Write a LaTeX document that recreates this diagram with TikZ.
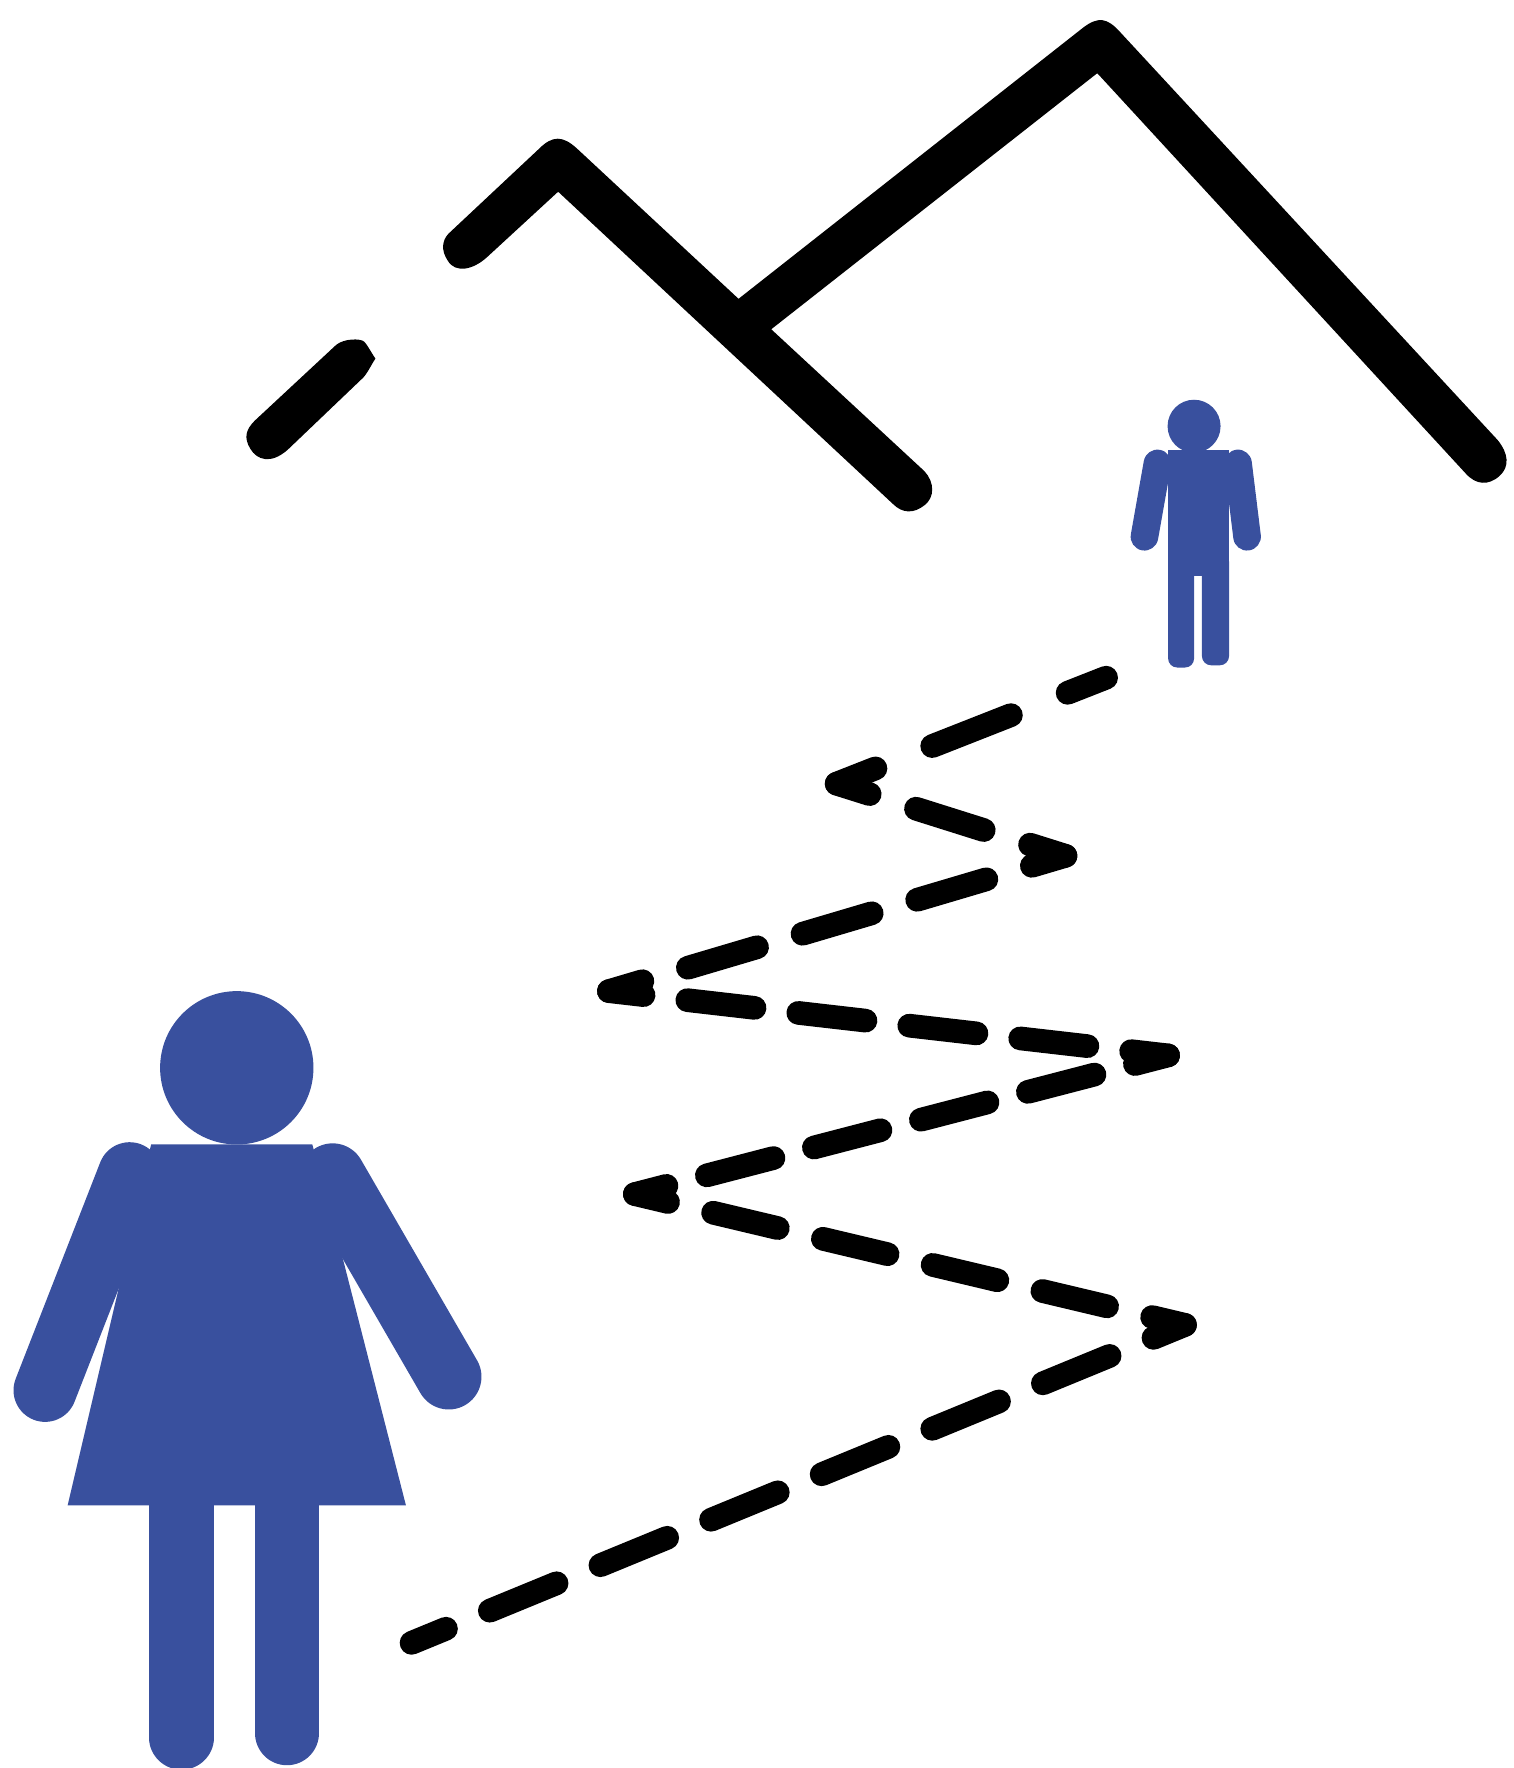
\documentclass[tikz,border=0pt]{standalone}
\usepackage{tikz}
\definecolor{figblue}{RGB}{57,80,158}
\tikzstyle{limb} = [figblue, line cap=round]
\tikzstyle{trail} = [black, line width=0.21cm, line cap=round]

\begin{document}
\begin{tikzpicture}[x=0.01cm,y=-0.01cm]
        \useasboundingbox (0,0) rectangle (1342,1568);
        % mountains
        \fill [black] (226,373) -- (298,306) .. controls (305,300) and (320,300) .. (323,303) .. controls (326,306) and (330,314) .. (333,318) .. controls (330,322) and (326,331) .. (322,335) -- (255,399) .. controls (240,412) and (228,408) .. (222,398) .. controls (216,388) and (218,381) .. (226,373) -- cycle;
        \fill [black] (398,207) -- (478,132) .. controls (490,120) and (499,120) .. (512,132) -- (655,265) -- (960,25) .. controls (974,14) and (982,16) .. (993,28) -- (1328,390) .. controls (1338,402) and (1339,414) .. (1330,422) .. controls (1320,431) and (1309,430) .. (1300,420) -- (976,68) -- (973,65) -- (684,292) -- (820,418) .. controls (829,428) and (829,441) .. (820,448) .. controls (810,456) and (800,455) .. (792,447) -- (495,170) -- (432,228) .. controls (420,239) and (404,243) .. (397,231) .. controls (391,222) and (392,213) .. (398,207) -- cycle;
        % near figure
        \fill [figblue] (210,947) circle (68);
        \fill [figblue] (134,1015) -- (277,1015) -- (305,1120) -- (360,1335) -- (60,1335) -- (104,1148) -- cycle;
        \draw [limb, line width=0.56cm] (115,1041) -- (40,1233);
        \draw [limb, line width=0.58cm] (295,1043) -- (398,1221);
        \draw [limb, line width=0.57cm] (161,1330) -- (161,1541);
        \draw [limb, line width=0.57cm] (254.5,1330) -- (254.5,1537);
        % far figure
        \fill [figblue] (1059,378) circle (23.5);
        \fill [figblue] (1036,399) rectangle (1090,511);
        \draw [limb, line width=0.245cm] (1026.5,411) -- (1015,476);
        \draw [limb, line width=0.245cm] (1098,411) -- (1106,476);
        \fill [figblue, rounded corners=0.08cm] (1036,490) rectangle (1059,592);
        \fill [figblue, rounded corners=0.08cm] (1066,490) rectangle (1090,590);
        % zigzag path
        \coordinate (start) at (365,1457);
        \coordinate (turn1) at (1051,1175);
        \coordinate (turn2) at (563,1059);
        \coordinate (turn3) at (1036,936);
        \coordinate (turn4) at (540,879);
        \coordinate (turn5) at (945,759);
        \coordinate (turn6) at (742,695);
        \coordinate (finish) at (981,601);
        \draw [trail, dash pattern=on 0.64cm off 0.42cm, dash phase=0.31cm] (start) -- (turn1);
        \draw [trail, dash pattern=on 0.59cm off 0.41cm, dash phase=0.29cm] (turn1) -- (turn2);
        \draw [trail, dash pattern=on 0.61cm off 0.37cm, dash phase=0.32cm] (turn2) -- (turn3);
        \draw [trail, dash pattern=on 0.60cm off 0.39cm, dash phase=0.27cm] (turn3) -- (turn4);
        \draw [trail, dash pattern=on 0.64cm off 0.42cm, dash phase=0.33cm] (turn4) -- (turn5);
        \draw [trail, dash pattern=on 0.63cm off 0.43cm, dash phase=0.30cm] (turn5) -- (turn6);
        \draw [trail, dash pattern=on 0.75cm off 0.54cm, dash phase=0.38cm] (turn6) -- (finish);
        \end{tikzpicture}
\end{document}
